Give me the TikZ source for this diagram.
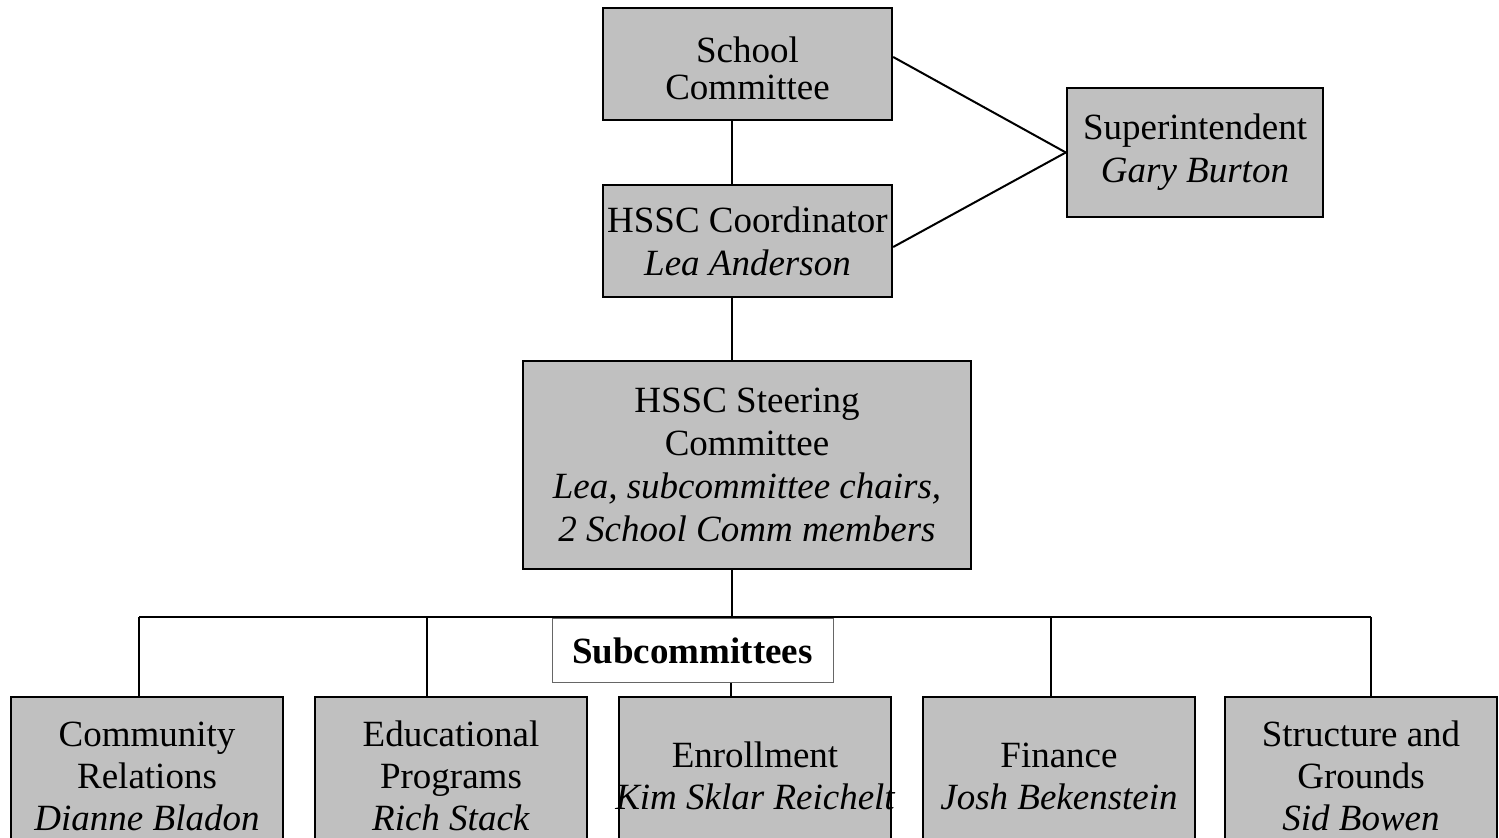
\documentclass[tikz,border=0pt]{standalone}
\usepackage{fontspec}
\setmainfont{Liberation Serif}
\usepackage{xcolor}
\usepackage{tikz}
\usetikzlibrary{calc, positioning}
\definecolor{boxgray}{RGB}{192,192,192}

\begin{document}
\begin{tikzpicture}[
        x=0.5pt, y=-0.5pt,
        line width=1pt,
        every node/.style={font=\fontsize{18.5}{21.5}\selectfont},
        box/.style={draw, line width=1.2pt, fill=boxgray, inner sep=0pt, align=center},
        unit/.style={box, minimum width=136pt, minimum height=84pt,
                     font=\fontsize{18.5}{21}\selectfont,
                     execute at end node={\rule[-5pt]{0pt}{0pt}}},
        tagbox/.style={draw=black!60, line width=0.5pt, fill=white, inner sep=0pt,
                       minimum width=140.5pt, minimum height=32pt,
                       font=\fontsize{18.5}{21.5}\selectfont\bfseries}
]

%--- page frame (bottom row runs off the page) ---------------
\path[use as bounding box, clip] (0,0) rectangle (1499,838);

%--- top of the chart ----------------------------------------
\node[box, minimum width=144.5pt, minimum height=56pt,
      font=\fontsize{18.5}{18.5}\selectfont] (sc) at (747.5,64)
     {\rule{0pt}{17pt}School\\Committee};
\node[box, minimum width=144.5pt, minimum height=56pt] (hc) at (747.5,241)
     {HSSC Coordinator\\\textit{Lea Anderson}};
\node[box, minimum width=128pt, minimum height=64.5pt] (su) at (1195,152.5)
     {Superintendent\\\textit{Gary Burton}};
\node[box, minimum width=224pt, minimum height=104pt] (st) at (747,465)
     {HSSC Steering\\Committee\\\textit{Lea, subcommittee chairs,}\\\textit{2 School Comm members}};

%--- subcommittees (bottom row) ------------------------------
\node[unit] (cr) at (147,781)  {Community\\Relations\\\textit{Dianne Bladon}};
\node[unit] (ep) at (451,781)  {Educational\\Programs\\\textit{Rich Stack}};
\node[unit] (en) at (755,781)  {Enrollment\\\makebox[0pt]{\itshape Kim Sklar Reichelt}};
\node[unit] (fi) at (1059,781) {Finance\\\textit{Josh Bekenstein}};
\node[unit] (sg) at (1361,781) {Structure and\\Grounds\\\textit{Sid Bowen}};

%--- connectors ----------------------------------------------
\coordinate (spine) at (732,0);      % the vertical trunk
\draw (sc.south -| spine) -- (hc.north -| spine);
\draw (hc.south -| spine) -- (st.north -| spine);
\draw ([yshift=3.5pt]sc.east) -- (su.west);
\draw ([yshift=-3pt]hc.east) -- (su.west);

%--- bus down to the subcommittees ---------------------------
\coordinate (bus) at (732,617);
\draw (st.south -| spine) -- (bus);
\foreach \n/\x in {cr/139, ep/427, en/731, fi/1051, sg/1371}{
  \coordinate (d\n) at (\x,617);
  \draw (d\n) -- (d\n |- \n.north);
}
\draw (dcr) -- (dsg);

\node[tagbox] (tag) at (692.5,651) {Subcommittees};

\end{tikzpicture}
\end{document}
